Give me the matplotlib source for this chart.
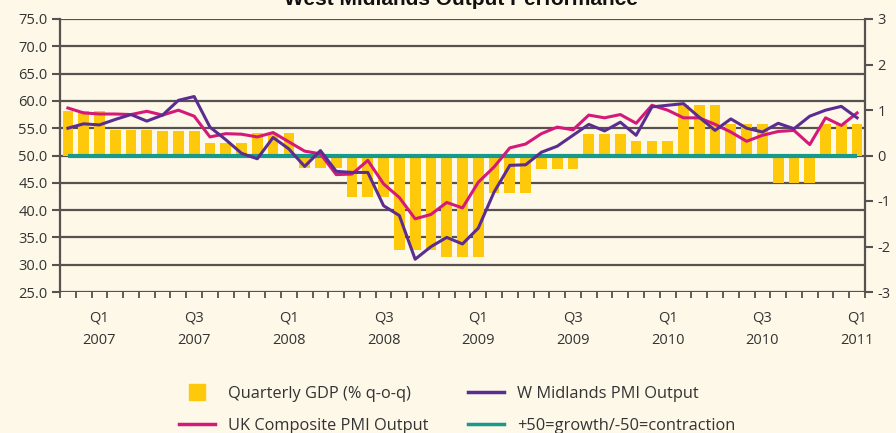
import numpy as np
import matplotlib
matplotlib.use("Agg")
import matplotlib.pyplot as plt
from matplotlib.lines import Line2D
from matplotlib.transforms import blended_transform_factory

# ---------------- data ----------------
# monthly categories Jan 2007 .. Mar 2011 (51 months); quarterly labels on quarter-end months
quarter_labels = ["Q1\n2007", "Q3\n2007", "Q1\n2008", "Q3\n2008", "Q1\n2009",
                  "Q3\n2009", "Q1\n2010", "Q3\n2010", "Q1\n2011"]
label_months = [2, 8, 14, 20, 26, 32, 38, 44, 50]

gdp_qoq = [0.97, 0.97, 0.97, 0.55, 0.55, 0.55, 0.53, 0.53, 0.53,
           0.27, 0.27, 0.27, 0.50, 0.50, 0.50, -0.28, -0.28, -0.28,
           -0.92, -0.92, -0.92, -2.07, -2.07, -2.07, -2.24, -2.24, -2.24,
           -0.83, -0.83, -0.83, -0.30, -0.30, -0.30, 0.48, 0.48, 0.48,
           0.31, 0.31, 0.31, 1.12, 1.12, 1.12, 0.70, 0.70, 0.70,
           -0.61, -0.61, -0.61, 0.70, 0.70, 0.70]

wm_pmi = [55.0, 55.8, 55.6, 56.6, 57.5, 56.3, 57.4, 60.1, 60.8, 55.2,
          52.9, 50.4, 49.4, 53.3, 51.2, 48.0, 50.9, 47.1, 46.9, 46.9,
          40.8, 39.0, 31.0, 33.3, 35.0, 33.8, 36.7, 43.3, 48.2, 48.3,
          50.6, 51.7, 53.7, 55.7, 54.5, 56.1, 53.7, 58.9, 59.2, 59.5,
          57.0, 54.6, 56.7, 55.0, 54.3, 55.9, 54.9, 57.2, 58.3, 59.0, 56.9]

uk_pmi = [58.7, 57.8, 57.6, 57.6, 57.5, 58.1, 57.4, 58.3, 57.2, 53.4,
          54.0, 53.9, 53.4, 54.2, 52.5, 50.8, 50.3, 46.5, 46.6, 49.1,
          44.8, 42.3, 38.4, 39.2, 41.4, 40.4, 45.1, 47.9, 51.4, 52.1,
          54.0, 55.2, 54.7, 57.4, 56.9, 57.5, 55.9, 59.2, 58.3, 56.9,
          56.9, 55.7, 54.3, 52.6, 53.7, 54.4, 54.6, 52.0, 56.9, 55.5, 57.8]

threshold = 50.0
left_ticks = [25, 30, 35, 40, 45, 50, 55, 60, 65, 70, 75]
right_ticks = [-3, -2, -1, 0, 1, 2, 3]

# ---------------- style ----------------
bg = "#FDF8E8"
yellow = "#FFC90B"
purple = "#5B2D90"
magenta = "#D5197A"
teal = "#17998B"
gridc = "#555250"
textc = "#333333"
plt.rcParams["font.family"] = ["Open Sans", "DejaVu Sans"]

W, H = 896, 433
fig = plt.figure(figsize=(W / 100, H / 100), dpi=100)
fig.patch.set_facecolor(bg)
L, R, T, B = 60 / W, 865 / W, 1 - 19 / H, 1 - 292 / H
ax_g = fig.add_axes([L, B, R - L, T - B])
ax_g.set_facecolor(bg)
ax_p = ax_g.twinx()
ax_p.patch.set_visible(False)

n = len(wm_pmi)
x = np.arange(n)

ax_g.set_ylim(-3, 3)
ax_p.set_ylim(25, 75)
ax_g.set_xlim(-0.5, n - 0.5)

# gridlines at left-axis values, drawn beneath the bars
gtrans = blended_transform_factory(ax_g.transAxes, ax_p.transData)
for v in left_ticks:
    ax_g.add_artist(Line2D([0, 1], [v, v], transform=gtrans, color=gridc,
                           lw=1.6, zorder=1))

ax_g.bar(x, gdp_qoq, width=0.68, color=yellow, zorder=2)

ax_p.plot(x, np.full(n, threshold), color=teal, lw=3.0, zorder=2,
          solid_capstyle="butt")
ax_p.plot(x, uk_pmi, color=magenta, lw=2.2, zorder=3)
ax_p.plot(x, wm_pmi, color=purple, lw=2.2, zorder=4)

# spines
for ax in (ax_g, ax_p):
    for s in ("top", "bottom"):
        ax.spines[s].set_visible(False)
for s in ("left", "right"):
    ax_g.spines[s].set_color(gridc)
    ax_g.spines[s].set_linewidth(1.6)
ax_p.spines["left"].set_visible(False)
ax_p.spines["right"].set_visible(False)

# left axis (PMI)
ax_p.yaxis.tick_left()
ax_p.set_yticks(left_ticks)
ax_p.set_yticklabels([f"{v:.1f}" for v in left_ticks])
ax_p.tick_params(axis="y", direction="out", length=6, width=1.5, color=gridc,
                 labelsize=10.5, labelcolor=textc, pad=3)

# right axis (GDP)
ax_g.yaxis.tick_right()
ax_g.set_yticks(right_ticks)
ax_g.set_yticklabels([str(v) for v in right_ticks])
ax_g.tick_params(axis="y", direction="out", length=6, width=1.5, color=gridc,
                 labelsize=10.5, labelcolor=textc, pad=3)

# x axis
ax_g.set_xticks(label_months)
ax_g.set_xticklabels(quarter_labels, linespacing=1.75)
ax_g.tick_params(axis="x", which="major", length=0, pad=13, labelsize=10.5,
                 labelcolor=textc)
ax_g.set_xticks(np.arange(-0.5, n, 1.0), minor=True)
ax_g.tick_params(axis="x", which="minor", direction="out", length=4.5,
                 width=1.3, color=gridc)

# title (partially cut at top as in reference)
fig.text(0.514, 1 - 5 / H, "West Midlands Output Performance", ha="center",
         va="baseline", fontsize=15, fontweight="bold",
         family=["Liberation Sans", "DejaVu Sans"], color="#111111")

# legend
handles = [
    Line2D([], [], marker="s", markersize=11, ls="none", color=yellow),
    Line2D([], [], color=magenta, lw=2.5),
    Line2D([], [], color=purple, lw=2.5),
    Line2D([], [], color=teal, lw=2.5),
]
labels = ["Quarterly GDP (% q-o-q)", "UK Composite PMI Output",
          "W Midlands PMI Output", "+50=growth/-50=contraction"]
fig.legend(handles, labels, ncol=2, loc="center",
           bbox_to_anchor=(0.51, 1 - 410 / H), frameon=False, fontsize=11.8,
           handlelength=2.2, columnspacing=2.4, labelspacing=0.95,
           handletextpad=0.8, labelcolor=textc)

fig.savefig("out.png", dpi=100, facecolor=bg)
